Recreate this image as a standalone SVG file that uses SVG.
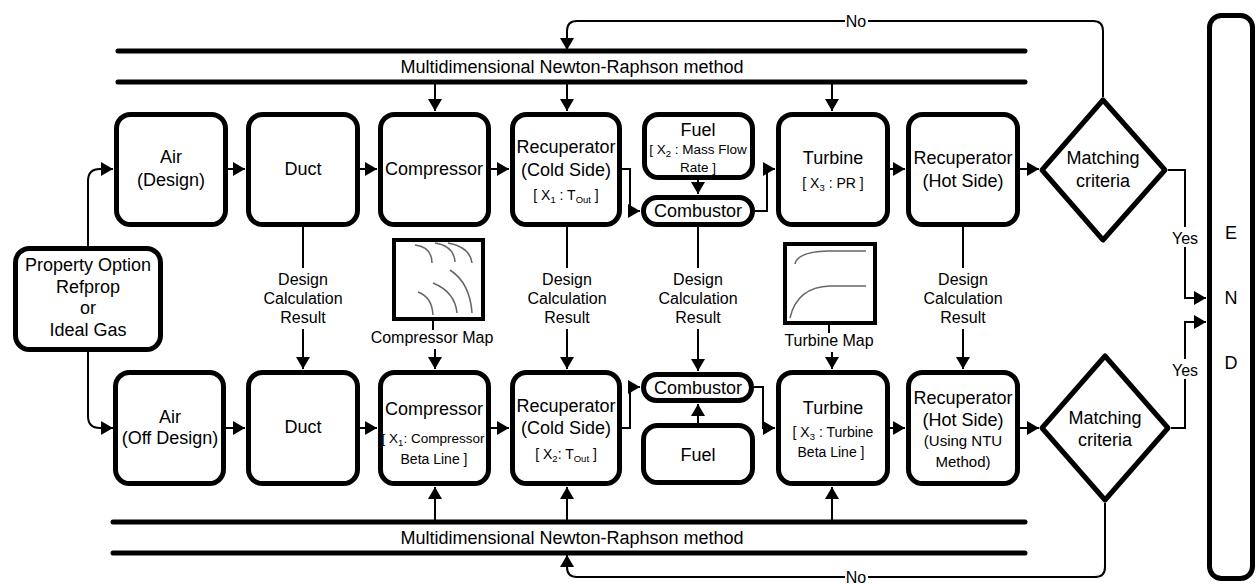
<svg xmlns="http://www.w3.org/2000/svg" width="1258" height="584" viewBox="0 0 1258 584">
<defs>
<marker id="ah" markerUnits="userSpaceOnUse" markerWidth="13" markerHeight="14" refX="12" refY="7" orient="auto">
<path d="M0,0 L12,7 L0,14 z" fill="#000"/>
</marker>
<style>
.box{fill:#fff;stroke:#000;stroke-width:5}
.map{fill:#fff;stroke:#000;stroke-width:4}
.curve{fill:none;stroke:#666;stroke-width:1.5}
.bar{stroke:#000;stroke-width:5;stroke-linecap:round;fill:none}
.ln{fill:none;stroke:#000;stroke-width:2}
.ar{fill:none;stroke:#000;stroke-width:2;marker-end:url(#ah)}
text{font-family:"Liberation Sans",Arial,sans-serif;fill:#000;text-anchor:middle}
.t18{font-size:18px}
.t16{font-size:16px}
.t15{font-size:15px}
.s{font-size:14px}
.s2{font-size:13.5px}
.sub{font-size:9.5px}
</style>
</defs>
<rect width="1258" height="584" fill="#fff"/>

<g id="connectors">
<path class="bar" d="M118 51 H1025 M118 82 H1025"/>
<path class="bar" d="M113 522 H1025 M113 553 H1025"/>
<path class="ar" d="M1103 97 V31 Q1103 21 1093 21 H577 Q567 21 567 31 V50"/>
<path class="ar" d="M1105 503 V567 Q1105 577 1095 577 H577 Q567 577 567 567 V555"/>
<path class="ar" d="M435 84 V111"/>
<path class="ar" d="M567 84 V111"/>
<path class="ar" d="M832 84 V111"/>
<path class="ar" d="M435 520 V487"/>
<path class="ar" d="M567 520 V487"/>
<path class="ar" d="M832 520 V487"/>
<path class="ar" d="M88 246 V181 Q88 169 100 169 H113"/>
<path class="ar" d="M88 352 V416 Q88 428 100 428 H113"/>
<path class="ar" d="M228 169 H245"/>
<path class="ar" d="M360 169 H377"/>
<path class="ar" d="M491 169 H509"/>
<path class="ar" d="M622 169 H630 V211 H640"/>
<path class="ar" d="M698 180 V194"/>
<path class="ar" d="M755 211 H767 V169 H775"/>
<path class="ar" d="M890 169 H905"/>
<path class="ar" d="M1020 169 H1039"/>
<path class="ar" d="M226 428 H245"/>
<path class="ar" d="M360 428 H377"/>
<path class="ar" d="M491 428 H509"/>
<path class="ar" d="M622 428 H630 V387 H640"/>
<path class="ar" d="M698 423 V404"/>
<path class="ar" d="M754 387 H763 V428 H775"/>
<path class="ar" d="M890 428 H905"/>
<path class="ar" d="M1020 428 H1039"/>
<path class="ar" d="M1168 170 H1185 V298 H1206"/>
<path class="ar" d="M1171 428 H1185 V322 H1206"/>
<path class="ln" d="M303 227 V268 M567 227 V268 M698 227 V268 M963 227 V268"/>
<path class="ar" d="M303 329 V369"/>
<path class="ar" d="M567 329 V369"/>
<path class="ar" d="M698 329 V371"/>
<path class="ar" d="M963 329 V369"/>
<path class="ln" d="M433 321 V330 M829 325 V333"/>
<path class="ar" d="M435 349 V369"/>
<path class="ar" d="M832 352 V369"/>
<rect x="1174" y="227" width="22" height="20" fill="#fff"/>
<text class="t16" x="1185" y="244">Yes</text>
<rect x="1174" y="359" width="22" height="20" fill="#fff"/>
<text class="t16" x="1185" y="376">Yes</text>
<rect x="845" y="12" width="23" height="18" fill="#fff"/>
<text class="t16" x="856" y="27">No</text>
<rect x="845" y="568" width="23" height="16" fill="#fff"/>
<text class="t16" x="856" y="583">No</text>
<text class="t18" x="572" y="73">Multidimensional Newton-Raphson method</text>
<text class="t18" x="572" y="544">Multidimensional Newton-Raphson method</text>
<text class="t16"><tspan x="303" y="285">Design</tspan><tspan x="303" y="304">Calculation</tspan><tspan x="303" y="323">Result</tspan></text>
<text class="t16"><tspan x="567" y="285">Design</tspan><tspan x="567" y="304">Calculation</tspan><tspan x="567" y="323">Result</tspan></text>
<text class="t16"><tspan x="698" y="285">Design</tspan><tspan x="698" y="304">Calculation</tspan><tspan x="698" y="323">Result</tspan></text>
<text class="t16"><tspan x="963" y="285">Design</tspan><tspan x="963" y="304">Calculation</tspan><tspan x="963" y="323">Result</tspan></text>
</g>

<g id="property-option">
<rect class="box" x="15.5" y="248.5" width="145" height="101" rx="14"/>
<text class="t18"><tspan x="88" y="271">Property Option</tspan><tspan x="88" y="293">Refprop</tspan><tspan x="88" y="314">or</tspan><tspan x="88" y="336">Ideal Gas</tspan></text>
</g>

<g id="air-design">
<rect class="box" x="116.5" y="114.5" width="109" height="110" rx="14"/>
<text class="t18"><tspan x="171" y="163">Air</tspan><tspan x="171" y="186">(Design)</tspan></text>
</g>
<g id="duct-design">
<rect class="box" x="248.5" y="114.5" width="109" height="110" rx="14"/>
<text class="t18" x="303" y="175">Duct</text>
</g>
<g id="compressor-design">
<rect class="box" x="380.5" y="114.5" width="108" height="110" rx="14"/>
<text class="t18" x="434" y="175">Compressor</text>
</g>
<g id="recuperator-cold-design">
<rect class="box" x="512.5" y="114.5" width="107" height="110" rx="14"/>
<text class="t18"><tspan x="566" y="153">Recuperator</tspan><tspan x="566" y="176">(Cold Side)</tspan></text>
<text class="s" x="566" y="200">[ X<tspan class="sub" dy="3">1</tspan><tspan dy="-3"> : T</tspan><tspan class="sub" dy="3">Out</tspan><tspan dy="-3"> ]</tspan></text>
</g>
<g id="fuel-design">
<rect class="box" x="644.5" y="114.5" width="108" height="63" rx="14"/>
<text class="t18" x="698" y="136">Fuel</text>
<text class="s2" x="698" y="154">[ X<tspan class="sub" dy="3">2</tspan><tspan dy="-3"> : Mass Flow</tspan></text>
<text class="s2" x="698" y="172">Rate ]</text>
</g>
<g id="combustor-design">
<rect class="box" x="643.5" y="197.5" width="109" height="27" rx="13.5"/>
<text class="t18" x="698" y="217">Combustor</text>
</g>
<g id="turbine-design">
<rect class="box" x="778.5" y="114.5" width="109" height="110" rx="14"/>
<text class="t18" x="833" y="164">Turbine</text>
<text class="s" x="833" y="188">[ X<tspan class="sub" dy="3">3</tspan><tspan dy="-3"> : PR ]</tspan></text>
</g>
<g id="recuperator-hot-design">
<rect class="box" x="908.5" y="114.5" width="109" height="110" rx="14"/>
<text class="t18"><tspan x="963" y="164">Recuperator</tspan><tspan x="963" y="187">(Hot Side)</tspan></text>
</g>
<g id="matching-design">
<polygon class="box" stroke-linejoin="round" points="1103,100 1165,170 1103,240 1042,170"/>
<text class="t18"><tspan x="1103" y="164">Matching</tspan><tspan x="1103" y="187">criteria</tspan></text>
</g>

<g id="compressor-map">
<rect class="map" x="394" y="240" width="89" height="79"/>
<path class="curve" d="M415 245 Q432 247 432 263 M435 243 Q454 246 455 262 M448 243 Q470 247 472 263 M418 292 Q432 297 433 315 M433 283 Q455 292 457 313 M450 270 Q470 283 472 313"/>
<text class="t16" x="432" y="343">Compressor Map</text>
</g>
<g id="turbine-map">
<rect class="map" x="785" y="244" width="90" height="79"/>
<path class="curve" d="M795 264 Q797 252 828 251 L866 251 M790 318 Q797 287 830 286 L866 286"/>
<text class="t16" x="829" y="346">Turbine Map</text>
</g>

<g id="air-off-design">
<rect class="box" x="115.5" y="372.5" width="108" height="111" rx="14"/>
<text class="t18"><tspan x="170" y="423">Air</tspan><tspan x="170" y="444">(Off Design)</tspan></text>
</g>
<g id="duct-off-design">
<rect class="box" x="248.5" y="372.5" width="109" height="111" rx="14"/>
<text class="t18" x="303" y="433">Duct</text>
</g>
<g id="compressor-off-design">
<rect class="box" x="380.5" y="372.5" width="108" height="111" rx="14"/>
<text class="t18" x="434" y="415">Compressor</text>
<text class="s2" x="433" y="443">[ X<tspan class="sub" dy="3">1</tspan><tspan dy="-3">: Compressor</tspan></text>
<text class="s" x="434" y="464">Beta Line ]</text>
</g>
<g id="recuperator-cold-off-design">
<rect class="box" x="512.5" y="372.5" width="107" height="111" rx="14"/>
<text class="t18"><tspan x="566" y="412">Recuperator</tspan><tspan x="566" y="434">(Cold Side)</tspan></text>
<text class="s" x="566" y="459">[ X<tspan class="sub" dy="3">2</tspan><tspan dy="-3">: T</tspan><tspan class="sub" dy="3">Out</tspan><tspan dy="-3"> ]</tspan></text>
</g>
<g id="combustor-off-design">
<rect class="box" x="643.5" y="374.5" width="108" height="26" rx="13"/>
<text class="t18" x="698" y="394">Combustor</text>
</g>
<g id="fuel-off-design">
<rect class="box" x="643.5" y="425.5" width="109" height="57" rx="14"/>
<text class="t18" x="698" y="461">Fuel</text>
</g>
<g id="turbine-off-design">
<rect class="box" x="778.5" y="372.5" width="109" height="111" rx="14"/>
<text class="t18" x="833" y="414">Turbine</text>
<text class="s" x="833" y="437">[ X<tspan class="sub" dy="3">3</tspan><tspan dy="-3"> : Turbine</tspan></text>
<text class="s" x="831" y="457">Beta Line ]</text>
</g>
<g id="recuperator-hot-off-design">
<rect class="box" x="908.5" y="372.5" width="109" height="111" rx="14"/>
<text class="t18"><tspan x="963" y="404">Recuperator</tspan><tspan x="963" y="426">(Hot Side)</tspan></text>
<text class="t15"><tspan x="963" y="446">(Using NTU</tspan><tspan x="963" y="467">Method)</tspan></text>
</g>
<g id="matching-off-design">
<polygon class="box" stroke-linejoin="round" points="1105,356 1168,428 1105,500 1042,428"/>
<text class="t18"><tspan x="1105" y="424">Matching</tspan><tspan x="1105" y="446">criteria</tspan></text>
</g>

<g id="end">
<rect class="box" x="1209.5" y="15.5" width="43" height="563" rx="12"/>
<text class="t18"><tspan x="1231" y="239">E</tspan><tspan x="1231" y="304">N</tspan><tspan x="1231" y="369">D</tspan></text>
</g>
</svg>
